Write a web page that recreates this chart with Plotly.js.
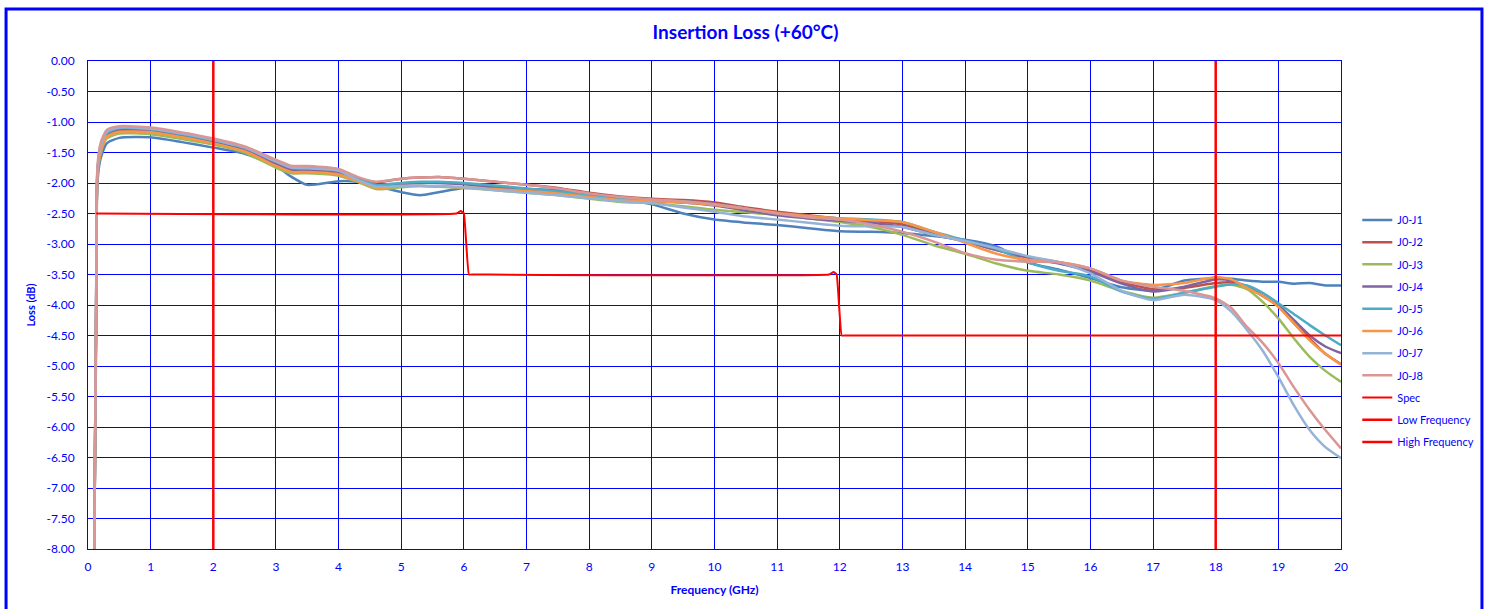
<!DOCTYPE html>
<html>
<head>
<meta charset="utf-8">
<script src="https://cdn.plot.ly/plotly-3.0.1.min.js"></script>
<style>html,body{margin:0;padding:0;background:#fff;}#chart{width:1494px;height:609px;}</style>
</head>
<body>
<div id="chart"></div>
<script>
// Frequency grid (GHz)
const freq = [0.1,0.13,0.15,0.2,0.3,0.5,1,1.5,2,2.5,3,3.25,3.5,4,4.3,4.6,5,5.3,5.6,6,6.5,7,7.5,8,8.5,9,9.5,10,10.5,11,11.5,12,12.5,13,13.5,14,14.5,15,15.5,16,16.5,17,17.5,18,18.25,18.5,18.75,19,19.25,19.5,19.75,20];

const j0j1 = [-8,-4.5,-2.0,-1.6,-1.35,-1.26,-1.25,-1.33,-1.42,-1.52,-1.72,-1.9,-2.03,-1.97,-1.98,-2.05,-2.15,-2.2,-2.15,-2.08,-2.08,-2.1,-2.12,-2.2,-2.27,-2.35,-2.5,-2.6,-2.65,-2.69,-2.74,-2.79,-2.8,-2.82,-2.87,-2.93,-3.04,-3.3,-3.42,-3.56,-3.71,-3.76,-3.6,-3.56,-3.57,-3.6,-3.62,-3.62,-3.65,-3.64,-3.68,-3.68];
const j0j2 = [-8,-4,-1.85,-1.45,-1.2,-1.13,-1.15,-1.22,-1.32,-1.45,-1.68,-1.78,-1.78,-1.82,-1.92,-1.99,-1.93,-1.91,-1.9,-1.93,-1.98,-2.03,-2.08,-2.16,-2.22,-2.26,-2.28,-2.32,-2.4,-2.47,-2.53,-2.58,-2.62,-2.68,-2.82,-2.95,-3.1,-3.22,-3.3,-3.42,-3.62,-3.74,-3.72,-3.64,-3.63,-3.7,-3.85,-4.02,-4.3,-4.55,-4.8,-4.97];
const j0j3 = [-8,-4.2,-1.9,-1.52,-1.27,-1.19,-1.2,-1.28,-1.37,-1.5,-1.75,-1.84,-1.84,-1.88,-1.98,-2.1,-2.07,-2.05,-2.06,-2.08,-2.12,-2.16,-2.2,-2.26,-2.31,-2.33,-2.38,-2.44,-2.48,-2.52,-2.58,-2.64,-2.72,-2.85,-3.02,-3.16,-3.32,-3.44,-3.5,-3.6,-3.77,-3.88,-3.8,-3.69,-3.67,-3.74,-3.95,-4.22,-4.55,-4.85,-5.08,-5.26];
const j0j4 = [-8,-4,-1.85,-1.45,-1.2,-1.12,-1.14,-1.22,-1.32,-1.45,-1.68,-1.79,-1.8,-1.84,-1.95,-2.05,-2.02,-2.0,-2.0,-2.02,-2.06,-2.1,-2.15,-2.22,-2.27,-2.3,-2.32,-2.37,-2.45,-2.53,-2.58,-2.62,-2.65,-2.72,-2.85,-2.96,-3.1,-3.22,-3.32,-3.45,-3.65,-3.78,-3.7,-3.58,-3.6,-3.7,-3.85,-4.0,-4.25,-4.5,-4.68,-4.79];
const j0j5 = [-8,-4,-1.82,-1.42,-1.18,-1.1,-1.12,-1.2,-1.3,-1.42,-1.63,-1.74,-1.75,-1.8,-1.93,-2.03,-2.0,-1.98,-1.98,-2.0,-2.04,-2.09,-2.14,-2.2,-2.26,-2.29,-2.3,-2.35,-2.42,-2.5,-2.55,-2.58,-2.6,-2.64,-2.8,-2.94,-3.08,-3.3,-3.44,-3.53,-3.78,-3.9,-3.8,-3.7,-3.66,-3.68,-3.8,-3.97,-4.15,-4.33,-4.5,-4.66];
const j0j6 = [-8,-4.1,-1.88,-1.5,-1.24,-1.16,-1.17,-1.25,-1.35,-1.48,-1.72,-1.82,-1.82,-1.86,-1.97,-2.08,-2.05,-2.05,-2.06,-2.07,-2.1,-2.13,-2.17,-2.23,-2.28,-2.3,-2.32,-2.36,-2.42,-2.49,-2.54,-2.58,-2.61,-2.64,-2.8,-2.98,-3.16,-3.26,-3.3,-3.4,-3.6,-3.67,-3.64,-3.54,-3.58,-3.72,-3.85,-4.03,-4.3,-4.58,-4.8,-4.98];
const j0j7 = [-8,-4,-1.8,-1.4,-1.16,-1.09,-1.11,-1.19,-1.29,-1.42,-1.65,-1.75,-1.76,-1.8,-1.95,-2.06,-2.05,-2.04,-2.05,-2.07,-2.12,-2.16,-2.2,-2.25,-2.3,-2.33,-2.4,-2.47,-2.55,-2.6,-2.65,-2.7,-2.71,-2.72,-2.85,-2.95,-3.07,-3.2,-3.3,-3.48,-3.77,-3.92,-3.83,-3.92,-4.11,-4.41,-4.75,-5.18,-5.65,-6.05,-6.33,-6.51];
const j0j8 = [-8,-3.9,-1.75,-1.35,-1.13,-1.07,-1.09,-1.17,-1.27,-1.4,-1.62,-1.72,-1.72,-1.77,-1.9,-1.98,-1.93,-1.91,-1.9,-1.93,-1.98,-2.03,-2.09,-2.17,-2.23,-2.27,-2.3,-2.35,-2.42,-2.5,-2.56,-2.6,-2.68,-2.8,-2.96,-3.15,-3.26,-3.29,-3.3,-3.4,-3.6,-3.7,-3.77,-3.89,-4.05,-4.36,-4.62,-4.95,-5.35,-5.72,-6.05,-6.35];

const specX = [0.13,5.88,5.95,6.0,6.08,6.15,11.83,11.9,11.95,12.03,12.1,20];
const specY = [-2.5,-2.5,-2.46,-2.5,-3.5,-3.5,-3.5,-3.46,-3.5,-4.5,-4.5,-4.5];
const lowX = [2,2], lowY = [0,-8];
const highX = [18,18], highY = [0,-8];

const xTicks = [0,1,2,3,4,5,6,7,8,9,10,11,12,13,14,15,16,17,18,19,20];
const yTicks = [0,-0.5,-1,-1.5,-2,-2.5,-3,-3.5,-4,-4.5,-5,-5.5,-6,-6.5,-7,-7.5,-8];

const names = ['J0-J1','J0-J2','J0-J3','J0-J4','J0-J5','J0-J6','J0-J7','J0-J8'];
const series = [j0j1,j0j2,j0j3,j0j4,j0j5,j0j6,j0j7,j0j8];
const colors = ['#4F81BD','#C0504D','#9BBB59','#8064A2','#4BACC6','#F79646','#95B3D7','#D99694'];

const traces = series.map((s,i)=>({
  x: freq, y: s, name: names[i], type:'scatter', mode:'lines',
  legendgroup: 'g'+i,
  line:{color:colors[i], width:2.5, shape:'spline', smoothing:0.6}
}));
traces.push({x:specX, y:specY, name:'Spec', type:'scatter', mode:'lines', legendgroup:'s',
  line:{color:'#FF0000', width:2, shape:'spline', smoothing:0.3}});
traces.push({x:lowX, y:lowY, name:'Low Frequency', type:'scatter', mode:'lines', legendgroup:'l',
  line:{color:'#FF0000', width:2.5}});
traces.push({x:highX, y:highY, name:'High Frequency', type:'scatter', mode:'lines', legendgroup:'h',
  line:{color:'#FF0000', width:2.5}});

const fontFam = 'Lato, "Liberation Sans", sans-serif';
const layout = {
  width:1494, height:609,
  margin:{l:88, r:153, t:61, b:60, autoexpand:false},
  paper_bgcolor:'#fff', plot_bgcolor:'#fff',
  font:{family:fontFam, color:'#0000FF', size:12},
  title:{text:'<b>Insertion Loss (+60°C)</b>', xref:'container', x:0.499, y:0.947, yanchor:'middle',
    font:{family:fontFam, size:19, color:'#0000FF'}},
  xaxis:{range:[0,20], tickvals:xTicks, ticktext:xTicks.map(String),
    showgrid:true, gridcolor:'#0000FF', gridwidth:1, showline:true, linecolor:'#0000FF', linewidth:1, mirror:true,
    zeroline:false, ticks:'', ticklabelstandoff:7,
    tickfont:{family:fontFam, size:12, color:'#0000FF'},
    title:{text:'<b>Frequency (GHz)</b>', standoff:12, font:{family:fontFam, size:12, color:'#0000FF'}}},
  yaxis:{range:[-8,0], tickvals:yTicks, ticktext:yTicks.map(v=>v.toFixed(2)),
    showgrid:true, gridcolor:'#0000FF', gridwidth:1, showline:true, linecolor:'#0000FF', linewidth:1, mirror:true,
    zeroline:false, ticks:'', ticklabelstandoff:10,
    tickfont:{family:fontFam, size:12, color:'#0000FF'},
    title:{text:'<b>Loss (dB)</b>', standoff:8, font:{family:fontFam, size:11, color:'#0000FF'}}},
  showlegend:true,
  legend:{x:1.013, xanchor:'left', y:0.704, yanchor:'top', tracegroupgap:3.2,
    font:{family:fontFam, size:11, color:'#0000FF'}, bgcolor:'rgba(0,0,0,0)', itemwidth:30},
  shapes:[{type:'rect', xref:'paper', yref:'paper', x0:-0.0654, x1:1.1125, y0:-0.2, y1:1.1066,
    line:{color:'#0000FF', width:3}, fillcolor:'rgba(0,0,0,0)', layer:'above'}]
};
Plotly.newPlot('chart', traces, layout, {displayModeBar:false, staticPlot:true});
</script>
</body>
</html>
